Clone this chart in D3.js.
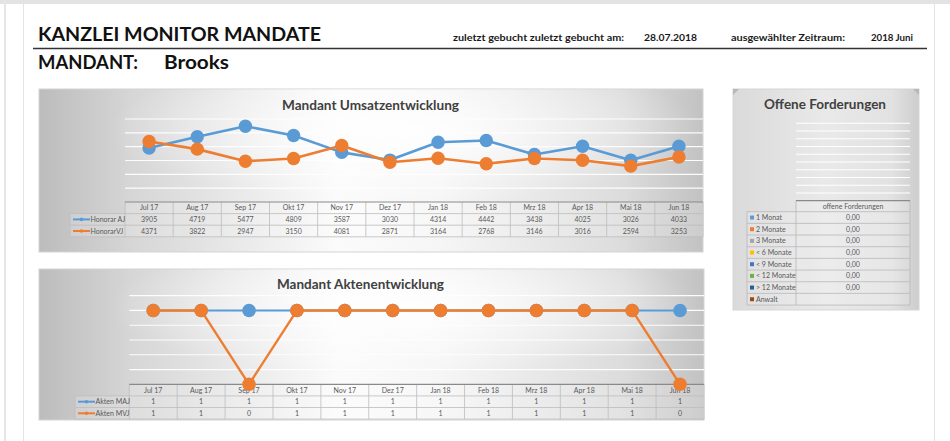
<!DOCTYPE html>
<html>
<head>
<meta charset="utf-8">
<script src="https://cdn.jsdelivr.net/npm/d3@7"></script>
<style>
  html, body { margin: 0; padding: 0; background: #ffffff; }
  svg { display: block; font-family: Lato, "Open Sans", "Liberation Sans", sans-serif; }
</style>
</head>
<body>
<svg id="board" width="950" height="441"></svg>
<script>
// ---- Data ----
const months = ["Jul 17", "Aug 17", "Sep 17", "Okt 17", "Nov 17", "Dez 17",
                "Jan 18", "Feb 18", "Mrz 18", "Apr 18", "Mai 18", "Jun 18"];
const honorarAJ = [3905, 4719, 5477, 4809, 3587, 3030, 4314, 4442, 3438, 4025, 3026, 4033];
const honorarVJ = [4371, 3822, 2947, 3150, 4081, 2871, 3164, 2768, 3146, 3016, 2594, 3253];
const aktenMAJ = [1, 1, 1, 1, 1, 1, 1, 1, 1, 1, 1, 1];
const aktenMVJ = [1, 1, 0, 1, 1, 1, 1, 1, 1, 1, 1, 0];
const forderungKategorien = ["1 Monat", "2 Monate", "3 Monate", "< 6 Monate",
                             "< 9 Monate", "< 12 Monate", "> 12 Monate", "Anwalt"];
const forderungWerte = [0, 0, 0, 0, 0, 0, 0, null];
const headerInfo = {
  gebucht: "zuletzt gebucht  zuletzt gebucht am:",
  datum: "28.07.2018",
  zeitraumLabel: "ausgewählter Zeitraum:",
  zeitraum: "2018 Juni"
};

// ---- Styles ----
const BLUE = "#5b9bd5", ORANGE = "#ed7d31";
const forderungFarben = ["#5b9bd5", "#ed7d31", "#a5a5a5", "#ffc000",
                         "#4472c4", "#70ad47", "#255e91", "#9e480e"];
const fmt = d3.format(",.2f");
const deNum = v => v == null ? "" : fmt(v).replace(/,/g, "#").replace(/\./g, ",").replace(/#/g, ".");

const svg = d3.select("#board");
const defs = svg.append("defs");

// panel fills
const lin = defs.append("linearGradient").attr("id", "panelH");
[[0, "#bcbcbc"], [0.14, "#d6d6d6"], [0.45, "#fbfbfb"], [0.6, "#f6f6f6"], [0.88, "#dcdcdc"], [1, "#c2c2c2"]]
  .forEach(([o, c]) => lin.append("stop").attr("offset", o).attr("stop-color", c));
const glow = defs.append("radialGradient").attr("id", "panelGlow")
  .attr("cx", 0.55).attr("cy", 0.25).attr("r", 0.45);
glow.append("stop").attr("offset", 0).attr("stop-color", "#ffffff").attr("stop-opacity", 0.9);
glow.append("stop").attr("offset", 1).attr("stop-color", "#ffffff").attr("stop-opacity", 0);
const side = defs.append("linearGradient").attr("id", "panelSide");
[[0, "#dadada"], [0.5, "#e9e9e9"], [0.85, "#e2e2e2"], [1, "#cdcdcd"]]
  .forEach(([o, c]) => side.append("stop").attr("offset", o).attr("stop-color", c));

// ---- Page frame ----
svg.append("rect").attr("x", 0).attr("y", 0).attr("width", 950).attr("height", 4).attr("fill", "#e3e3e3");
svg.append("rect").attr("x", 4).attr("y", 0).attr("width", 2).attr("height", 441).attr("fill", "#e6e6e6");
svg.append("line").attr("x1", 23.5).attr("x2", 23.5).attr("y1", 4).attr("y2", 441).attr("stroke", "#e4e4e4");
svg.append("line").attr("x1", 934.5).attr("x2", 934.5).attr("y1", 4).attr("y2", 441).attr("stroke", "#e4e4e4");

// ---- Header ----
svg.append("text").attr("x", 38).attr("y", 40.5)
  .attr("font-size", 19).attr("font-weight", 700).attr("fill", "#111")
  .attr("textLength", 283).attr("lengthAdjust", "spacingAndGlyphs")
  .text("KANZLEI MONITOR MANDATE");
svg.append("line").attr("x1", 33).attr("x2", 927).attr("y1", 48.5).attr("y2", 48.5)
  .attr("stroke", "#333").attr("stroke-width", 1.4);
svg.append("text").attr("x", 38).attr("y", 68.5)
  .attr("font-size", 19).attr("font-weight", 700).attr("fill", "#111")
  .attr("textLength", 100).attr("lengthAdjust", "spacingAndGlyphs").text("MANDANT:");
svg.append("text").attr("x", 164).attr("y", 68.5)
  .attr("font-size", 19).attr("font-weight", 700).attr("fill", "#111")
  .attr("textLength", 65).attr("lengthAdjust", "spacingAndGlyphs").text("Brooks");
[[headerInfo.gebucht, 453, 171], [headerInfo.datum, 644, 53],
 [headerInfo.zeitraumLabel, 731, 114], [headerInfo.zeitraum, 871, 42]]
  .forEach(([t, x, w]) => svg.append("text").attr("x", x).attr("y", 41)
    .attr("font-size", 10).attr("font-weight", 700).attr("fill", "#1a1a1a")
    .attr("textLength", w).attr("lengthAdjust", "spacingAndGlyphs").text(t));

// ---- Shared line chart with data table ----
function lineChart(cfg) {
  const g = svg.append("g");
  const p = cfg.panel;
  g.append("rect").attr("x", p.x).attr("y", p.y).attr("width", p.w).attr("height", p.h)
    .attr("fill", "url(#panelH)").attr("stroke", "#d4d4d4");
  g.append("rect").attr("x", p.x).attr("y", p.y).attr("width", p.w).attr("height", p.h)
    .attr("fill", "url(#panelGlow)");

  g.append("text").attr("x", cfg.titleX).attr("y", cfg.titleY).attr("text-anchor", "middle")
    .attr("font-size", 14).attr("font-weight", 700).attr("fill", "#404040")
    .attr("textLength", cfg.titleW).attr("lengthAdjust", "spacingAndGlyphs").text(cfg.title);

  const x = d3.scaleBand().domain(months).range(cfg.xRange).padding(0);
  const y = d3.scaleLinear().domain(cfg.yDomain).range(cfg.yRange);
  const cx = m => x(m) + x.bandwidth() / 2;

  // gridlines
  g.append("g").selectAll("line").data(y.ticks(cfg.ticks).filter(t => t > 0)).join("line")
    .attr("x1", cfg.xRange[0]).attr("x2", cfg.xRange[1])
    .attr("y1", d => y(d)).attr("y2", d => y(d))
    .attr("stroke", "#ffffff").attr("stroke-width", 1.2).attr("opacity", 0.95);

  // data table
  const rowH = cfg.rowH, top = y(0);
  const t = g.append("g");
  const rows = cfg.series.length + 1;
  t.append("rect").attr("x", cfg.xRange[0]).attr("y", top)
    .attr("width", cfg.xRange[1] - cfg.xRange[0]).attr("height", rowH * rows)
    .attr("fill", "#ffffff").attr("fill-opacity", 0.18);
  t.append("rect").attr("x", cfg.legendX).attr("y", top + rowH)
    .attr("width", cfg.xRange[0] - cfg.legendX).attr("height", rowH * (rows - 1))
    .attr("fill", "#ffffff").attr("fill-opacity", 0.18);
  // horizontal rules
  d3.range(1, rows + 1).forEach(i => {
    t.append("line").attr("x1", cfg.legendX).attr("x2", cfg.xRange[1])
      .attr("y1", top + i * rowH).attr("y2", top + i * rowH)
      .attr("stroke", "#bdbdbd").attr("stroke-width", 0.8);
  });
  // vertical rules
  months.forEach(m => t.append("line").attr("x1", x(m)).attr("x2", x(m))
    .attr("y1", top).attr("y2", top + rows * rowH).attr("stroke", "#bdbdbd").attr("stroke-width", 0.8));
  t.append("line").attr("x1", cfg.xRange[1]).attr("x2", cfg.xRange[1])
    .attr("y1", top).attr("y2", top + rows * rowH).attr("stroke", "#bdbdbd").attr("stroke-width", 0.8);
  t.append("line").attr("x1", cfg.legendX).attr("x2", cfg.legendX)
    .attr("y1", top + rowH).attr("y2", top + rows * rowH).attr("stroke", "#bdbdbd").attr("stroke-width", 0.8);
  // axis line
  t.append("line").attr("x1", cfg.xRange[0]).attr("x2", cfg.xRange[1])
    .attr("y1", top).attr("y2", top).attr("stroke", "#8a8a8a").attr("stroke-width", 1.2);

  t.selectAll("text.m").data(months).join("text")
    .attr("x", d => cx(d)).attr("y", top + rowH / 2 + 2.5).attr("text-anchor", "middle")
    .attr("font-size", 7).attr("fill", "#595959").text(d => d);
  cfg.series.forEach((s, i) => {
    const ry = top + rowH * (i + 1);
    t.selectAll(null).data(s.values).join("text")
      .attr("x", (d, j) => cx(months[j])).attr("y", ry + rowH / 2 + 2.5).attr("text-anchor", "middle")
      .attr("font-size", 7).attr("fill", "#595959").text(d => d);
    const ly = ry + rowH / 2;
    t.append("line").attr("x1", cfg.legendX + 3).attr("x2", cfg.legendX + 20)
      .attr("y1", ly).attr("y2", ly).attr("stroke", s.color).attr("stroke-width", 2);
    t.append("circle").attr("cx", cfg.legendX + 11.5).attr("cy", ly).attr("r", 1.8).attr("fill", s.color);
    t.append("text").attr("x", cfg.legendX + 20.5).attr("y", ly + 2.5)
      .attr("font-size", 7).attr("fill", "#595959").text(s.name);
  });

  // series
  cfg.series.forEach(s => {
    const line = d3.line().x((d, j) => cx(months[j])).y(d => y(d));
    g.append("path").datum(s.values).attr("d", line).attr("fill", "none")
      .attr("stroke", s.color).attr("stroke-width", s.width).attr("stroke-linejoin", "round");
    g.append("g").selectAll("circle").data(s.values).join("circle")
      .attr("cx", (d, j) => cx(months[j])).attr("cy", d => y(d)).attr("r", cfg.r)
      .attr("fill", s.color);
  });
}

lineChart({
  panel: { x: 39, y: 89, w: 664, h: 163 },
  title: "Mandant Umsatzentwicklung", titleX: 370.5, titleY: 110, titleW: 177,
  xRange: [125, 703], yDomain: [0, 6000], yRange: [202, 119], ticks: 6,
  rowH: 11.6, legendX: 70, r: 6.7,
  series: [
    { name: "Honorar AJ", values: honorarAJ, color: BLUE, width: 2.6 },
    { name: "HonorarVJ", values: honorarVJ, color: ORANGE, width: 2.6 }
  ]
});

lineChart({
  panel: { x: 39, y: 269, w: 665, h: 151 },
  title: "Mandant Aktenentwicklung", titleX: 360.5, titleY: 289, titleW: 167,
  xRange: [129.3, 704], yDomain: [0, 1.2], yRange: [384.3, 295.7], ticks: 6,
  rowH: 11.6, legendX: 75, r: 6.8,
  series: [
    { name: "Akten MAJ", values: aktenMAJ, color: BLUE, width: 2 },
    { name: "Akten MVJ", values: aktenMVJ, color: ORANGE, width: 2.4 }
  ]
});

// ---- Offene Forderungen ----
(function () {
  const g = svg.append("g");
  const p = { x: 733, y: 89, w: 186, h: 221 };
  g.append("rect").attr("x", p.x).attr("y", p.y).attr("width", p.w).attr("height", p.h)
    .attr("fill", "url(#panelSide)").attr("stroke", "#d6d6d6");
  g.append("path").attr("d", `M${p.x},${p.y}h6l-6,6z`).attr("fill", "#b8b8b8");
  g.append("path").attr("d", `M${p.x + p.w},${p.y}h-6l6,6z`).attr("fill", "#b8b8b8");
  g.append("text").attr("x", 825).attr("y", 109).attr("text-anchor", "middle")
    .attr("font-size", 14).attr("font-weight", 700).attr("fill", "#404040")
    .attr("textLength", 122).attr("lengthAdjust", "spacingAndGlyphs").text("Offene Forderungen");

  const x0 = 796, x1 = 910, lx = 747;
  const y = d3.scaleLinear().domain([0, 1]).range([200.7, 123.3]);
  g.append("g").selectAll("line").data(y.ticks(10).filter(t => t > 0)).join("line")
    .attr("x1", x0).attr("x2", x1).attr("y1", d => y(d)).attr("y2", d => y(d))
    .attr("stroke", "#ffffff").attr("stroke-width", 1.1);

  const top = y(0), hdrH = 11, rowH = 11.67;
  const rowY = i => top + hdrH + i * rowH;
  const n = forderungKategorien.length;
  g.append("rect").attr("x", x0).attr("y", top).attr("width", x1 - x0).attr("height", hdrH + n * rowH)
    .attr("fill", "#ffffff").attr("fill-opacity", 0.15);
  g.append("rect").attr("x", lx).attr("y", top + hdrH).attr("width", x0 - lx).attr("height", n * rowH)
    .attr("fill", "#ffffff").attr("fill-opacity", 0.15);
  d3.range(n + 1).forEach(i => g.append("line").attr("x1", lx).attr("x2", x1)
    .attr("y1", rowY(i)).attr("y2", rowY(i)).attr("stroke", "#b8b8b8").attr("stroke-width", 0.8));
  [[lx, top + hdrH], [x0, top], [x1, top]].forEach(([xx, yy]) =>
    g.append("line").attr("x1", xx).attr("x2", xx).attr("y1", yy).attr("y2", rowY(n))
      .attr("stroke", "#b8b8b8").attr("stroke-width", 0.8));
  g.append("line").attr("x1", x0).attr("x2", x1).attr("y1", top).attr("y2", top)
    .attr("stroke", "#8a8a8a").attr("stroke-width", 1.2);
  g.append("text").attr("x", (x0 + x1) / 2).attr("y", top + hdrH / 2 + 2.5).attr("text-anchor", "middle")
    .attr("font-size", 7).attr("fill", "#595959").text("offene Forderungen");

  forderungKategorien.forEach((k, i) => {
    const cy = rowY(i) + rowH / 2;
    g.append("rect").attr("x", lx + 3).attr("y", cy - 2).attr("width", 4).attr("height", 4)
      .attr("fill", forderungFarben[i]);
    g.append("text").attr("x", lx + 9).attr("y", cy + 2.5)
      .attr("font-size", 7).attr("fill", "#595959").text(k);
    g.append("text").attr("x", (x0 + x1) / 2).attr("y", cy + 2.5).attr("text-anchor", "middle")
      .attr("font-size", 7).attr("fill", "#595959").text(deNum(forderungWerte[i]));
  });
})();
</script>
</body>
</html>
